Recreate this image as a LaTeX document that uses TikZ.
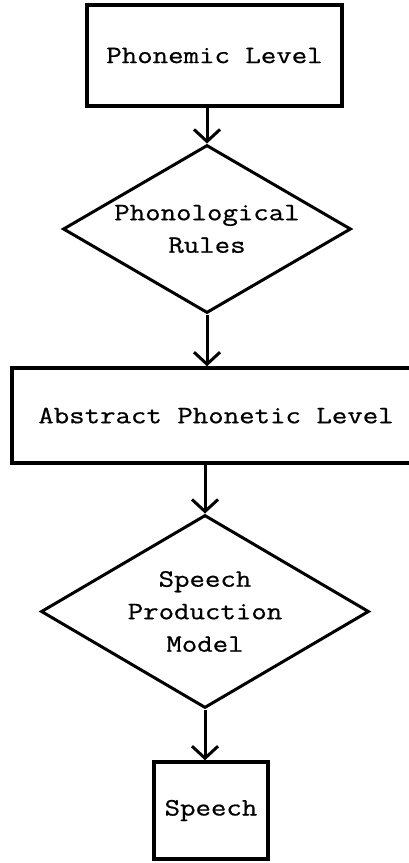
\documentclass[tikz,border=0pt]{standalone}
\usepackage{fontspec}
\setmonofont{Latin Modern Mono}[FakeStretch=1.2,FakeBold=0.7]
\usetikzlibrary{shapes.geometric,arrows.meta}

\begin{document}
\begin{tikzpicture}[x=1pt,y=1pt,
  level/.style={rectangle,draw,line width=3.5pt,inner sep=0pt},
  rules/.style={diamond,draw,line width=3pt,inner sep=0pt,aspect=1.7,align=center},
  flow/.style={line width=3pt,-{Straight Barb[length=12pt,width=26pt,line width=3pt]}},
  every node/.style={font=\ttfamily\fontsize{25}{32.5}\selectfont}]

  \useasboundingbox (0,0) rectangle (409,-863);

  \node [level,minimum width=255pt,minimum height=101pt] (phonemic) at (214.5,-55.5) {Phonemic Level};
  \node [rules,minimum width=288pt,minimum height=168pt] (phonrules) at (207,-229) {Phonological\\Rules};
  \node [level,minimum width=408pt,minimum height=95pt] (phonetic) at (216,-415.5) {Abstract Phonetic Level};
  \node [rules,minimum width=328pt,minimum height=193pt] (model) at (205,-611.5) {Speech\\Production\\Model};
  \node [level,minimum width=114pt,minimum height=97pt] (speech) at (211,-810.5) {Speech};

  \draw [flow] (phonemic.south -| phonrules.north) -- (phonrules.north);
  \draw [flow] (phonrules.south) -- (phonrules.south |- phonetic.north);
  \draw [flow] (phonetic.south -| model.north) -- (model.north);
  \draw [flow] (model.south) -- (model.south |- speech.north);
\end{tikzpicture}
\end{document}
